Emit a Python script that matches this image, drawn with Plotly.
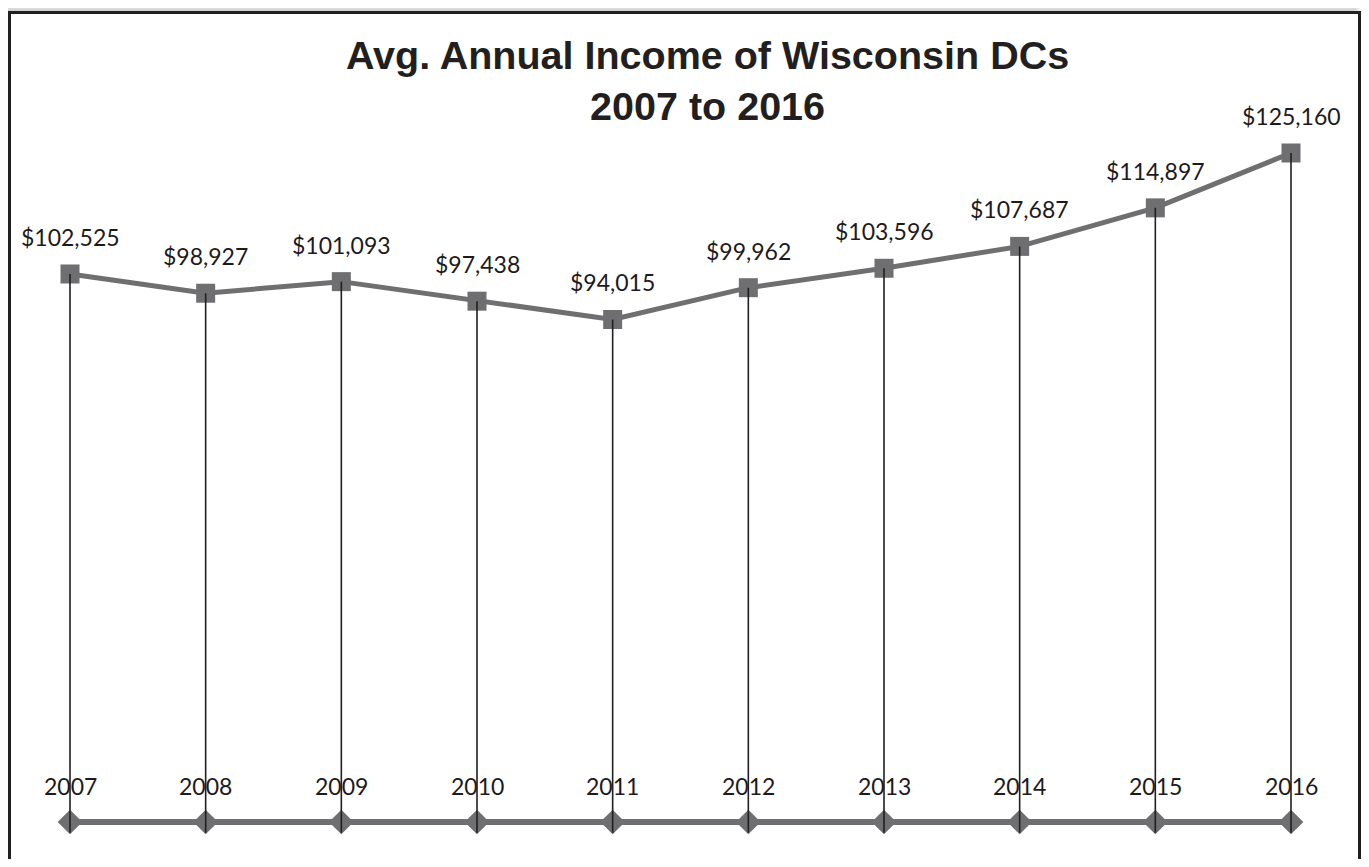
import plotly.graph_objects as go

# ---- data ----
years = [2007, 2008, 2009, 2010, 2011, 2012, 2013, 2014, 2015, 2016]
income = [102525, 98927, 101093, 97438, 94015, 99962, 103596, 107687, 114897, 125160]
income_labels = ["$102,525", "$98,927", "$101,093", "$97,438", "$94,015",
                 "$99,962", "$103,596", "$107,687", "$114,897", "$125,160"]
year_labels = [str(y) for y in years]
baseline = [0] * len(years)

title_lines = ["Avg. Annual Income of Wisconsin DCs", "2007 to 2016"]

# page has an 8px body margin
OFF = 8
W, H = 1369 - 2 * OFF, 867 - 2 * OFF
LINE_GRAY = "#6f6f72"
DARK = "#231f20"


def px(x):
    """reference-page pixel x -> paper coordinate"""
    return (x - OFF) / W


def py(y):
    """reference-page pixel y -> paper coordinate"""
    return 1 - (y - OFF) / H


fig = go.Figure()

# main income line
fig.add_trace(go.Scatter(
    x=years, y=income, mode="lines+markers",
    line=dict(color=LINE_GRAY, width=5),
    marker=dict(symbol="square", size=19, color=LINE_GRAY),
    hoverinfo="skip", showlegend=False,
))

# bottom category line
fig.add_trace(go.Scatter(
    x=years, y=baseline, mode="lines+markers",
    line=dict(color=LINE_GRAY, width=6),
    marker=dict(symbol="diamond", size=19, color=LINE_GRAY),
    hoverinfo="skip", showlegend=False,
))

# drop lines (from each point down past the baseline)
drop_x, drop_y = [], []
for x, v, b in zip(years, income, baseline):
    drop_x += [x, x, None]
    drop_y += [v, b - 2000, None]
fig.add_trace(go.Scatter(
    x=drop_x, y=drop_y, mode="lines",
    line=dict(color=DARK, width=1.6),
    hoverinfo="skip", showlegend=False,
))

label_font = dict(family="Lato", size=23, color="#1e1a1b")
annotations = []
for x, v, t in zip(years, income, income_labels):
    annotations.append(dict(
        x=x, y=v, xref="x", yref="y", text=t, showarrow=False,
        yanchor="middle", yshift=37, font=label_font,
    ))
for x, b, t in zip(years, baseline, year_labels):
    annotations.append(dict(
        x=x, y=b, xref="x", yref="y", text=t, showarrow=False,
        yanchor="middle", yshift=36, font=label_font,
    ))
annotations.append(dict(
    x=px(707), y=py(80), xref="paper", yref="paper",
    text="<br>".join("<b>%s</b>" % s for s in title_lines),
    showarrow=False, xanchor="center", yanchor="middle",
    font=dict(family="Liberation Sans, Arial", size=39.5, color=DARK),
))

shapes = []
# soft shadow
for k in range(1, 10):
    shapes.append(dict(
        type="rect", xref="paper", yref="paper", layer="below",
        x0=px(9 - k), x1=px(1352 + k), y0=py(900), y1=py(12 - k),
        fillcolor="rgba(0,0,0,0.025)", line=dict(width=0),
    ))
# white card with border
shapes.append(dict(
    type="rect", xref="paper", yref="paper", layer="below",
    x0=px(9.5), x1=px(1359.5), y0=py(900), y1=py(12.5),
    fillcolor="white", line=dict(color=DARK, width=3),
))

fig.update_layout(
    width=W, height=H,
    margin=dict(l=0, r=0, t=0, b=0),
    paper_bgcolor="white", plot_bgcolor="white",
    xaxis=dict(range=[2006.543, 2016.516], visible=False, fixedrange=True),
    yaxis=dict(range=[-6922, 152288], visible=False, fixedrange=True),
    annotations=annotations, shapes=shapes,
    showlegend=False,
)

fig.write_html("out.html")
